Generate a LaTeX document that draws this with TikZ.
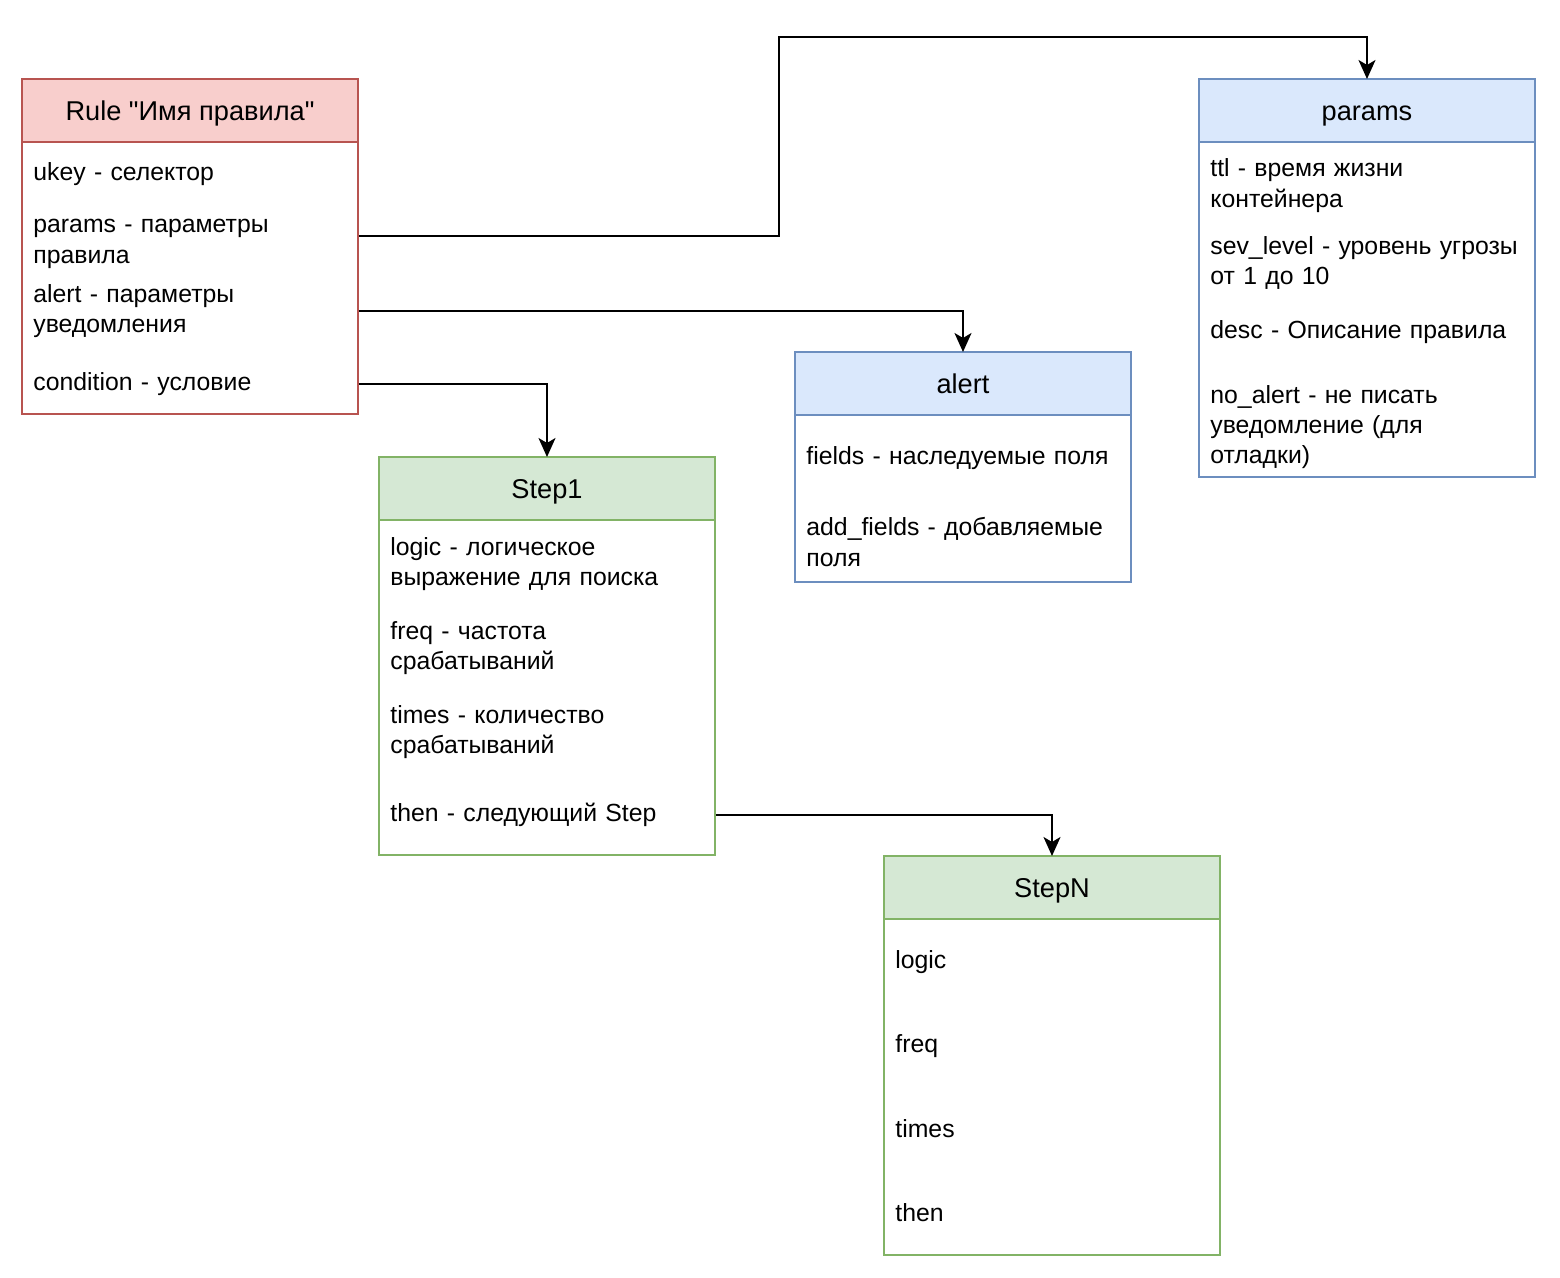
\documentclass[tikz,border=0pt]{standalone}
\usepackage{fontspec}
\setmainfont{Liberation Sans}[Ligatures = TeXOff]
\usetikzlibrary{positioning,arrows.meta}
\definecolor{redfill}{HTML}{F8CECC}
\definecolor{redline}{HTML}{B85450}
\definecolor{bluefill}{HTML}{DAE8FC}
\definecolor{blueline}{HTML}{6C8EBF}
\definecolor{greenfill}{HTML}{D5E8D4}
\definecolor{greenline}{HTML}{82B366}
\tikzset{
	head/.style = {draw, line width = 1pt, minimum width = 168pt, minimum height = 31.5pt, inner sep = 0pt, outer sep = 0pt, text height = 9.7pt, text depth = 0pt, font = \fontsize{13.6}{16}\selectfont},
	body/.style = {draw, fill = white, line width = 1pt, minimum width = 168pt, inner sep = 0pt, outer sep = 0pt},
	field/.style = {anchor = west, inner xsep = 5.5pt, inner ysep = 2pt, text width = 157pt, align = left, font = \fontsize{12.4}{15.2}\selectfont},
	link/.style = {line width = 1pt, -{Stealth[length = 9.5pt, width = 8.5pt, inset = 2.5pt]}}
}
\begin{document}
\begin{tikzpicture}[x = .5pt, y = -.5pt]
				\useasboundingbox (0,0) rectangle (1560,1278);
				% boxes
				\node[head, fill = redfill, draw = redline] (rule) at (190,110.5) {Rule "Имя правила"};
				\node[body, draw = redline, minimum height = 136pt, below = 0pt of rule] (rule-body) {};
				\node[head, fill = bluefill, draw = blueline] (params) at (1367,110.5) {params};
				\node[body, draw = blueline, minimum height = 167.5pt, below = 0pt of params] (params-body) {};
				\node[head, fill = bluefill, draw = blueline] (alert) at (963,383.5) {alert};
				\node[body, draw = blueline, minimum height = 83.5pt, below = 0pt of alert] (alert-body) {};
				\node[head, fill = greenfill, draw = greenline] (step1) at (547,488.5) {Step1};
				\node[body, draw = greenline, minimum height = 167.5pt, below = 0pt of step1] (step1-body) {};
				\node[head, fill = greenfill, draw = greenline] (stepN) at (1052,887.5) {StepN};
				\node[body, draw = greenline, minimum height = 168pt, below = 0pt of stepN] (stepN-body) {};
				% fields
				\node[field] (rule-ukey) at (22,174) {ukey - селектор};
				\node[field] (rule-params) at (22,244) {params - параметры правила};
				\node[field] (rule-alert) at (22,311) {alert - параметры уведомления};
				\node[field] (rule-cond) at (22,384) {condition - условие};
				\node[field] (params-ttl) at (1199,185.5) {ttl - время жизни контейнера};
				\node[field] (params-sev) at (1199,263) {sev\_level - уровень угрозы от 1 до 10};
				\node[field] (params-desc) at (1199,332) {desc - Описание правила};
				\node[field] (params-noalert) at (1199,427) {no\_alert - не писать уведомление (для отладки)};
				\node[field] (alert-fields) at (795,458) {fields - наследуемые поля};
				\node[field] (alert-add) at (795,542) {add\_fields - добавляемые поля};
				\node[field] (step1-logic) at (379,564) {logic - логическое выражение для поиска};
				\node[field] (step1-freq) at (379,648) {freq - частота срабатываний};
				\node[field] (step1-times) at (379,732) {times - количество срабатываний};
				\node[field] (step1-then) at (379,815) {then - следующий Step};
				\foreach \t/\y in {logic/962, freq/1046, times/1129, then/1213} {
					\node[field] (stepN-\t) at (884,\y) {\t};
				}
				% links
				\coordinate (top) at (779,37);
				\draw[link] ([yshift = 4pt]rule-params.east) -| (top) -| (params.north);
				\draw[link] (rule-alert.east) -| (alert.north);
				\draw[link] (rule-cond.east) -| (step1.north);
				\draw[link] (step1-then.east) -| (stepN.north);
			\end{tikzpicture}
\end{document}
